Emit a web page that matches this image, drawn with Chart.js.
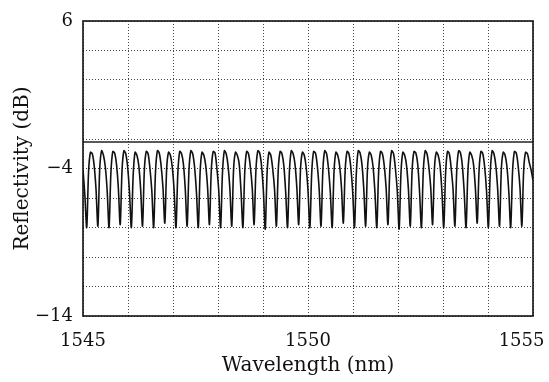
<!DOCTYPE html>
<html lang="en">
<head>
    <meta charset="UTF-8">
    <title>Reflectivity vs Wavelength</title>
    <style>
        html, body { margin: 0; padding: 0; background: #fff; }
        .chart-box { width: 549px; height: 382px; position: relative; }
    </style>
</head>
<body>
    <div class="chart-box">
        <canvas id="refl-chart"></canvas>
    </div>

    <script src="https://cdn.jsdelivr.net/npm/chart.js"></script>
    <script>
        // wavelength sampling of the trace (nm)
        const wlStart = 1545;
        const wlEnd = 1555;

        const reflectivity = [
            -4.1, -5.8,
            -8.0, -4.2, -2.9, -3.0, -3.8, -5.4,
            -7.9, -4.0, -2.8, -3.1, -3.9, -5.5,
            -8.0, -4.3, -2.85, -2.95, -3.7, -5.3,
            -7.8, -4.1, -2.8, -3.0, -3.9, -5.6,
            -8.0, -4.4, -2.9, -3.1, -3.8, -5.4,
            -7.9, -4.1, -2.85, -3.0, -4.0, -5.5,
            -8.0, -4.2, -2.8, -2.95, -3.8, -5.3,
            -7.7, -4.0, -2.9, -3.1, -3.9, -5.5,
            -8.0, -4.3, -2.85, -3.0, -3.7, -5.4,
            -7.9, -4.1, -2.8, -3.0, -3.9, -5.6,
            -8.0, -4.2, -2.9, -3.1, -3.8, -5.3,
            -7.8, -4.1, -2.85, -2.95, -4.0, -5.5,
            -8.0, -4.3, -2.8, -3.0, -3.8, -5.4,
            -7.9, -4.0, -2.9, -3.1, -3.7, -5.6,
            -8.0, -4.2, -2.85, -3.0, -3.9, -5.3,
            -7.8, -4.1, -2.8, -2.95, -3.8, -5.5,
            -8.1, -4.3, -2.9, -3.1, -4.0, -5.4,
            -7.9, -4.1, -2.85, -3.0, -3.8, -5.6,
            -8.0, -4.2, -2.8, -3.0, -3.7, -5.3,
            -7.8, -4.0, -2.9, -3.1, -3.9, -5.5,
            -8.0, -4.3, -2.85, -2.95, -3.8, -5.4,
            -7.9, -4.1, -2.8, -3.0, -4.0, -5.6,
            -8.0, -4.2, -2.9, -3.1, -3.8, -5.3,
            -7.7, -4.1, -2.85, -3.0, -3.9, -5.5,
            -8.0, -4.3, -2.8, -2.95, -3.7, -5.4,
            -7.9, -4.0, -2.9, -3.1, -3.9, -5.6,
            -8.0, -4.2, -2.85, -3.0, -3.8, -5.3,
            -7.8, -4.1, -2.8, -3.0, -4.0, -5.5,
            -8.1, -4.3, -2.9, -3.1, -3.8, -5.4,
            -7.9, -4.1, -2.85, -2.95, -3.7, -5.6,
            -8.0, -4.2, -2.8, -3.0, -3.9, -5.3,
            -7.8, -4.0, -2.9, -3.1, -3.8, -5.5,
            -8.0, -4.3, -2.85, -3.0, -4.0, -5.4,
            -7.9, -4.1, -2.8, -2.95, -3.8, -5.6,
            -8.0, -4.2, -2.9, -3.1, -3.7, -5.3,
            -7.7, -4.1, -2.85, -3.0, -3.9, -5.5,
            -8.0, -4.3, -2.8, -3.0, -3.8, -5.4,
            -7.9, -4.0, -2.9, -3.1, -3.9, -5.6,
            -8.0, -4.2, -2.85, -2.95, -3.8, -5.3,
            -7.9, -4.1, -2.9, -3.0, -3.6, -4.1,
            -4.8
        ];

        // flat reference level drawn across the full span (dB)
        const refLevel = -2.2;

        const xTickLabels = [1545, 1550, 1555];
        const yTickLabels = [6, -4, -14];

        const wlStep = (wlEnd - wlStart) / (reflectivity.length - 1);
        const tracePoints = reflectivity.map((v, i) => ({ x: wlStart + i * wlStep, y: v }));
        const refPoints = [{ x: wlStart, y: refLevel }, { x: wlEnd, y: refLevel }];

        const fmt = v => (v < 0 ? '\u2212' + Math.abs(v) : String(v));

        const framePlugin = {
            id: 'frame',
            afterDatasetsDraw(chart) {
                const { ctx, chartArea: a } = chart;
                ctx.save();
                ctx.strokeStyle = '#111';
                ctx.lineWidth = 1.6;
                ctx.strokeRect(a.left, a.top, a.right - a.left, a.bottom - a.top);
                ctx.restore();
            }
        };

        const serif = 'DejaVu Serif';
        const ctx = document.getElementById('refl-chart').getContext('2d');
        new Chart(ctx, {
            type: 'line',
            data: {
                datasets: [
                    {
                        label: 'Reflectivity',
                        data: tracePoints,
                        borderColor: '#111',
                        borderWidth: 1.6,
                        pointRadius: 0,
                        tension: 0.3,
                        fill: false,
                    },
                    {
                        label: 'Reference',
                        data: refPoints,
                        borderColor: '#222',
                        borderWidth: 1.5,
                        pointRadius: 0,
                        fill: false,
                    }
                ],
            },
            options: {
                responsive: true,
                maintainAspectRatio: false,
                animation: false,
                layout: { padding: { top: 21, right: 16, bottom: 0, left: 0 } },
                plugins: {
                    legend: { display: false },
                    tooltip: { enabled: false },
                },
                scales: {
                    x: {
                        type: 'linear',
                        min: 1545,
                        max: 1555,
                        grid: { color: '#444', lineWidth: 1, drawTicks: false },
                        border: { display: false, dash: [1, 2] },
                        ticks: {
                            stepSize: 1,
                            autoSkip: false,
                            maxRotation: 0,
                            padding: 15,
                            color: '#111',
                            font: { family: serif, size: 18 },
                            // last label nudged left with figure spaces so it stays on the page
                            callback: v => (!xTickLabels.includes(v) ? '' : v === 1555 ? '1555\u2007\u2007' : String(v)),
                        },
                        title: {
                            display: true,
                            text: 'Wavelength (nm)',
                            color: '#111',
                            font: { family: serif, size: 20 },
                            padding: { top: 0, bottom: 4 },
                        },
                        afterFit(scale) {
                            scale.height = 66;
                            scale.paddingLeft = 0;
                            scale.paddingRight = 0;
                        },
                    },
                    y: {
                        min: -14,
                        max: 6,
                        grid: { color: '#444', lineWidth: 1, drawTicks: false },
                        border: { display: false, dash: [1, 2] },
                        ticks: {
                            stepSize: 2,
                            autoSkip: false,
                            padding: 10,
                            color: '#111',
                            font: { family: serif, size: 18 },
                            callback: v => (yTickLabels.includes(v) ? fmt(v) : ''),
                        },
                        title: {
                            display: true,
                            text: 'Reflectivity (dB)',
                            color: '#111',
                            font: { family: serif, size: 20 },
                            padding: { top: 11, bottom: 0 },
                        },
                        afterFit(scale) {
                            scale.width = 83;
                            scale.paddingTop = 0;
                            scale.paddingBottom = 0;
                        },
                    },
                },
            },
            plugins: [framePlugin],
        });
    </script>
</body>
</html>
